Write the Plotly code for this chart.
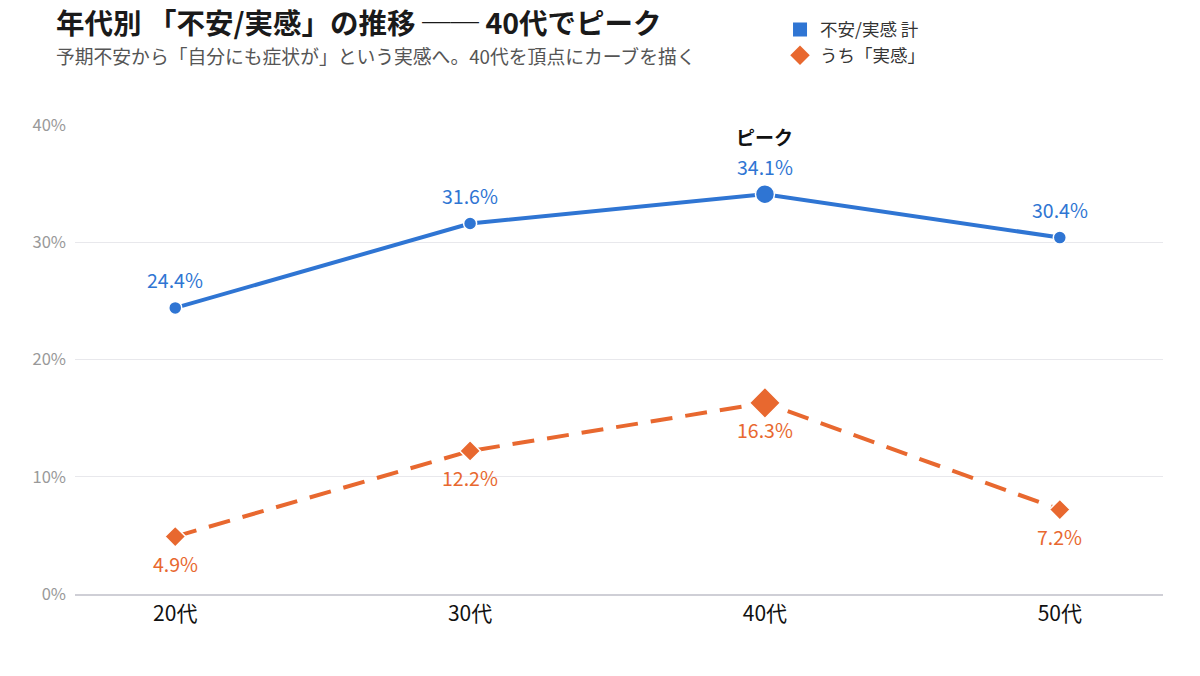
import plotly.graph_objects as go

categories = ["20代", "30代", "40代", "50代"]
total_vals = [24.4, 31.6, 34.1, 30.4]
jikkan_vals = [4.9, 12.2, 16.3, 7.2]
y_ticks = [0, 10, 20, 30, 40]
y_tick_labels = ["0%", "10%", "20%", "30%", "40%"]

BLUE = "#2f75d3"
ORANGE = "#e8682f"
FONT = "Noto Sans CJK JP"

peak_i = total_vals.index(max(total_vals))
x_idx = list(range(len(categories)))

fig = go.Figure()

fig.add_trace(go.Scatter(
    x=x_idx, y=total_vals, mode="lines+markers",
    line=dict(color=BLUE, width=4),
    marker=dict(color=BLUE, size=[19 if i == peak_i else 13 for i in x_idx], opacity=1,
                line=dict(color="white", width=1.5)),
    showlegend=False, hoverinfo="skip", cliponaxis=False,
))
fig.add_trace(go.Scatter(
    x=x_idx, y=jikkan_vals, mode="lines+markers",
    line=dict(color=ORANGE, width=4, dash="22px,13px"),
    marker=dict(color=ORANGE, symbol="diamond", opacity=1,
                size=[24 if i == peak_i else 16 for i in x_idx],
                line=dict(color="white", width=1.5)),
    showlegend=False, hoverinfo="skip", cliponaxis=False,
))
for i, v in zip(x_idx, total_vals):
    fig.add_annotation(x=i, y=v, text=f"{v:.1f}%", showarrow=False, yshift=28,
                       font=dict(size=19.5, color=BLUE, family=FONT))
for i, v in zip(x_idx, jikkan_vals):
    fig.add_annotation(x=i, y=v, text=f"{v:.1f}%", showarrow=False, yshift=-27,
                       font=dict(size=19.5, color=ORANGE, family=FONT))

# legend entries
fig.add_trace(go.Scatter(x=[None], y=[None], mode="markers", name="不安/実感 計", legendgroup="a",
                         marker=dict(color=BLUE, symbol="square", size=14)))
fig.add_trace(go.Scatter(x=[None], y=[None], mode="markers", name="うち「実感」", legendgroup="b",
                         marker=dict(color=ORANGE, symbol="diamond", size=15)))

fig.add_annotation(x=peak_i, y=total_vals[peak_i], text="<b>ピーク</b>", showarrow=False,
                   yshift=58, font=dict(size=19, color="#111", family=FONT))

# title & subtitle
fig.add_annotation(xref="paper", yref="paper", x=-0.019, y=1.2, xanchor="left", yanchor="middle",
                   text="<b>年代別 「不安/実感」の推移 ── 40代でピーク</b>", showarrow=False,
                   yshift=(594 - 22) - 469 * 1.2,
                   font=dict(size=28.5, color="#1a1a1a", family=FONT))
fig.add_annotation(xref="paper", yref="paper", x=-0.019, y=1.2, xanchor="left", yanchor="middle",
                   text="予期不安から「自分にも症状が」という実感へ。40代を頂点にカーブを描く", showarrow=False,
                   yshift=(594 - 56) - 469 * 1.2,
                   font=dict(size=18.8, color="#555", family=FONT))

fig.update_layout(
    width=1200, height=676,
    margin=dict(l=75, r=37, t=125, b=82, autoexpand=False),
    paper_bgcolor="white", plot_bgcolor="white",
    font=dict(family=FONT),
    legend=dict(x=0.648, y=1.242, xanchor="left", yanchor="top", traceorder="grouped",
                font=dict(size=17.5, color="#333", family=FONT),
                bgcolor="rgba(0,0,0,0)", tracegroupgap=0),
    xaxis=dict(range=[-0.34, 3.35], tickmode="array", tickvals=x_idx, ticktext=categories,
               showgrid=False, zeroline=False, showline=True, linecolor="#cfcfd6", linewidth=1.5,
               tickfont=dict(size=21, color="#111", family=FONT), ticks=""),
    yaxis=dict(range=[0, 40], tickmode="array", tickvals=y_ticks, ticktext=y_tick_labels,
               showgrid=True, gridcolor="#e8e8ec", gridwidth=1, zeroline=False,
               tickfont=dict(size=16.5, color="#999", family=FONT), ticks="",
               ticklabelstandoff=8,
               showline=False, fixedrange=True),
)

fig.write_html("out.html")
